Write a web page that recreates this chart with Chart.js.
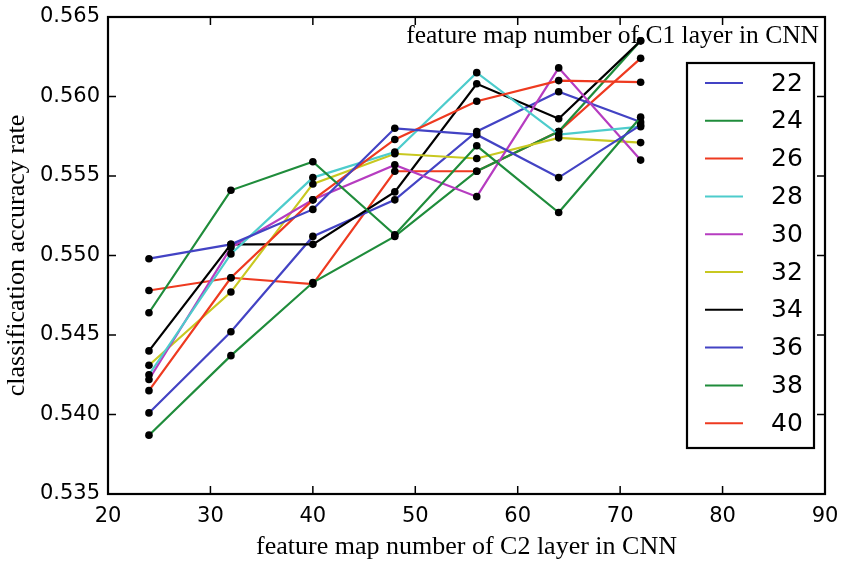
<!DOCTYPE html>
<html>
<head>
<meta charset="utf-8">
<script src="https://cdn.jsdelivr.net/npm/chart.js@4.4.1/dist/chart.umd.min.js"></script>
<style>
html,body{margin:0;padding:0;background:#fff;}
#wrap{width:843px;height:564px;position:relative;}
</style>
</head>
<body>
<div id="wrap"><canvas id="c" width="843" height="564"></canvas></div>
<script>
const xValues = [24, 32, 40, 48, 56, 64, 72];
const seriesLabels = ['22','24','26','28','30','32','34','36','38','40'];
const s22 = [0.5498, 0.5507, 0.5529, 0.5580, 0.5576, 0.5549, 0.5582];
const s24 = [0.5464, 0.5541, 0.5559, 0.5513, 0.5569, 0.5527, 0.5587];
const s26 = [0.5415, 0.5486, 0.5535, 0.5573, 0.5597, 0.5610, 0.5609];
const s28 = [0.5425, 0.5501, 0.5549, 0.5565, 0.5615, 0.5576, 0.5581];
const s30 = [0.5422, 0.5505, 0.5535, 0.5557, 0.5537, 0.5618, 0.5560];
const s32 = [0.5431, 0.5477, 0.5545, 0.5564, 0.5561, 0.5574, 0.5571];
const s34 = [0.5440, 0.5507, 0.5507, 0.5540, 0.5608, 0.5586, 0.5635];
const s36 = [0.5401, 0.5452, 0.5512, 0.5535, 0.5578, 0.5603, 0.5584];
const s38 = [0.5387, 0.5437, 0.5483, 0.5512, 0.5553, 0.5578, 0.5635];
const s40 = [0.5478, 0.5486, 0.5482, 0.5553, 0.5553, 0.5578, 0.5624];
const allSeries = [s22, s24, s26, s28, s30, s32, s34, s36, s38, s40];
const colors = ['#4343c4','#1f8c3b','#ee3a20','#4dcccc','#b63cc0','#c8c820','#000000','#4343c4','#1f8c3b','#ee3a20'];
const xTitle = 'feature map number of C2 layer in CNN';
const yTitle = 'classification accuracy rate';
const legendTitle = 'feature map number of C1 layer in CNN';

const serif = '"Liberation Serif", "Times New Roman", serif';
const sans = '"DejaVu Sans", sans-serif';

const datasets = allSeries.map((s, i) => ({
  label: seriesLabels[i],
  data: s.map((v, j) => ({x: xValues[j], y: v})),
  borderColor: colors[i],
  backgroundColor: colors[i],
  borderWidth: 2.2,
  pointRadius: 3.8,
  pointBackgroundColor: '#000',
  pointBorderColor: '#000',
  pointBorderWidth: 0,
  tension: 0,
  fill: false
}));

const framePlugin = {
  id: 'frame',
  afterDraw(chart) {
    const {ctx, chartArea: a, scales} = chart;
    ctx.save();
    ctx.strokeStyle = '#000';
    ctx.lineWidth = 1.5;
    const tl = 8;
    scales.x.ticks.forEach(t => {
      const px = scales.x.getPixelForValue(t.value);
      ctx.beginPath();
      ctx.moveTo(px, a.bottom); ctx.lineTo(px, a.bottom - tl);
      ctx.moveTo(px, a.top); ctx.lineTo(px, a.top + tl);
      ctx.stroke();
    });
    scales.y.ticks.forEach(t => {
      const py = scales.y.getPixelForValue(t.value);
      ctx.beginPath();
      ctx.moveTo(a.left, py); ctx.lineTo(a.left + tl, py);
      ctx.moveTo(a.right, py); ctx.lineTo(a.right - tl, py);
      ctx.stroke();
    });
    ctx.lineWidth = 2.2;
    ctx.strokeRect(a.left, a.top, a.right - a.left, a.bottom - a.top);

    // legend title
    ctx.fillStyle = '#000';
    ctx.font = '25.5px ' + serif;
    ctx.textAlign = 'right';
    ctx.textBaseline = 'middle';
    ctx.fillText(legendTitle, 819, 36);

    // legend box
    const bx = 687, by = 63, bw = 127, bh = 385;
    ctx.fillStyle = '#fff';
    ctx.fillRect(bx, by, bw, bh);
    ctx.lineWidth = 2.2;
    ctx.strokeStyle = '#000';
    ctx.strokeRect(bx, by, bw, bh);
    const step = 37.8;
    ctx.font = '25px ' + sans;
    ctx.textAlign = 'left';
    chart.data.datasets.forEach((d, i) => {
      const y = by + 20 + i * step;
      ctx.strokeStyle = d.borderColor;
      ctx.lineWidth = 2;
      ctx.beginPath();
      ctx.moveTo(705, y); ctx.lineTo(743, y);
      ctx.stroke();
      ctx.fillStyle = '#000';
      ctx.fillText(d.label, 771, y + 1);
    });
    ctx.restore();
  }
};

new Chart(document.getElementById('c'), {
  type: 'line',
  data: {datasets},
  options: {
    responsive: false,
    animation: false,
    layout: {padding: {top: 17, right: 18, left: 0, bottom: 0}},
    plugins: {legend: {display: false}, tooltip: {enabled: false}},
    scales: {
      x: {
        type: 'linear', min: 20, max: 90,
        ticks: {stepSize: 10, color: '#000', font: {family: sans, size: 21}, padding: 10},
        grid: {display: false, drawTicks: false},
        border: {display: false},
        title: {display: true, text: xTitle, color: '#000', font: {family: serif, size: 26}, padding: {top: 4, bottom: 1}},
        afterFit(s) { s.height = 70; s.paddingLeft = 0; s.paddingRight = 0; }
      },
      y: {
        type: 'linear', min: 0.535, max: 0.565,
        ticks: {stepSize: 0.005, color: '#000', font: {family: sans, size: 21}, padding: 8,
          callback: v => v.toFixed(3)},
        grid: {display: false, drawTicks: false},
        border: {display: false},
        title: {display: true, text: yTitle, color: '#000', font: {family: serif, size: 26}, padding: {top: 2, bottom: 4}},
        afterFit(s) { s.width = 108; s.paddingTop = 0; s.paddingBottom = 0; }
      }
    }
  },
  plugins: [framePlugin]
});
</script>
</body>
</html>
